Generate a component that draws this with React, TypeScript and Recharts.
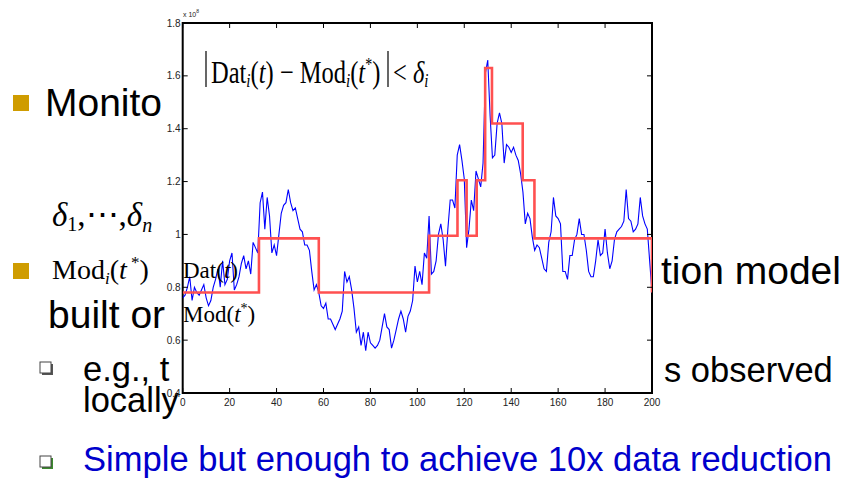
import React from "react";
import { Line, LineChart, ReferenceArea, XAxis, YAxis } from "recharts";

// measured series, in units of 1e8
const dataValues = [
  0.76, 0.77, 0.8, 0.84, 0.75, 0.8, 0.78, 0.77, 0.79, 0.81,
  0.76, 0.73, 0.75, 0.8, 0.83, 0.87, 0.8, 0.9, 0.81, 0.83,
  0.9, 0.93, 0.79, 0.81, 0.84, 0.89, 0.92, 0.87, 0.9, 0.85,
  0.97, 0.95, 0.93, 1.12, 1.16, 1.02, 1.14, 1.07, 0.93, 0.96,
  0.92, 1.0, 1.08, 1.11, 1.12, 1.17, 1.12, 1.09, 1.1, 1.06,
  1.02, 1.01, 0.96, 0.96, 0.94, 0.86, 0.79, 0.81, 0.78, 0.73,
  0.72, 0.74, 0.68, 0.68, 0.66, 0.64, 0.66, 0.68, 0.71, 0.86,
  0.82, 0.84, 0.79, 0.72, 0.63, 0.65, 0.58, 0.63, 0.56, 0.63,
  0.59, 0.58, 0.57, 0.58, 0.6, 0.65, 0.7, 0.65, 0.64, 0.57,
  0.6, 0.64, 0.68, 0.71, 0.68, 0.63, 0.69, 0.71, 0.75, 0.88,
  0.82, 0.86, 0.81, 0.93, 0.91, 1.07, 0.85, 0.86, 0.9, 1.0,
  1.04, 0.98, 0.88, 1.02, 1.13, 1.13, 1.1, 1.3, 1.34, 1.28,
  1.21, 0.95, 1.02, 1.13, 1.09, 1.24, 1.21, 1.18, 1.27, 1.61,
  1.66, 1.45, 1.29, 1.3, 1.42, 1.46, 1.42, 1.27, 1.34, 1.33,
  1.31, 1.33, 1.3, 1.28, 1.23, 1.16, 1.04, 1.08, 1.06, 0.99,
  0.94, 0.96, 0.95, 0.91, 0.87, 0.86, 0.97, 1.01, 1.14, 1.07,
  1.06, 1.04, 0.86, 0.86, 0.83, 0.92, 0.92, 0.98, 1.0, 1.06,
  1.0, 1.0, 0.94, 0.86, 0.84, 0.84, 0.9, 0.98, 0.92, 0.93,
  1.02, 0.93, 0.87, 0.9, 0.98, 1.01, 1.02, 1.03, 1.05, 1.17,
  1.06, 1.05, 1.01, 1.02, 1.04, 1.14, 1.07, 1.04, 1.02, 0.9,
  0.78,
];

// piecewise constant model: level holds from each break to the next
const modelBreaks = [0, 32.5, 58, 105, 117.1, 121, 125.3, 128.9, 131.8, 144.9, 149.9, 200];
const modelLevels = [0.78, 0.985, 0.78, 0.995, 1.205, 0.995, 1.205, 1.63, 1.42, 1.205, 0.985, 0.78];

const xTicks = [0, 20, 40, 60, 80, 100, 120, 140, 160, 180, 200];
const yTicks = [0.4, 0.6, 0.8, 1.0, 1.2, 1.4, 1.6, 1.8];

const series = dataValues.map((v, t) => ({ t, v }));
const model = modelBreaks.map((t, i) => ({ t, m: modelLevels[i] }));

const PLOT_LEFT = 182.7;
const PLOT_TOP = 23;
const PLOT_RIGHT = 652;
const PLOT_BOTTOM = 393;
const PLOT_W = PLOT_RIGHT - PLOT_LEFT;
const PLOT_H = PLOT_BOTTOM - PLOT_TOP;

const SANS = "'Liberation Sans', Arial, sans-serif";
const SERIF = "'Liberation Serif', 'Times New Roman', serif";

function fmt(v: number) {
  return String(Math.round(v * 10) / 10);
}

function BottomTick(props: any) {
  const { x, y, payload } = props;
  return (
    <g>
      <line x1={x} y1={y} x2={x} y2={y - 5} stroke="#000" strokeWidth={1} />
      <line x1={x} y1={y - PLOT_H} x2={x} y2={y - PLOT_H + 5} stroke="#000" strokeWidth={1} />
      <text x={x} y={y + 13} textAnchor="middle" fontSize={10} fontFamily={SANS} fill="#222">
        {fmt(payload.value)}
      </text>
    </g>
  );
}

function LeftTick(props: any) {
  const { x, y, payload } = props;
  return (
    <g>
      <line x1={x} y1={y} x2={x + 5} y2={y} stroke="#000" strokeWidth={1} />
      <line x1={x + PLOT_W} y1={y} x2={x + PLOT_W - 5} y2={y} stroke="#000" strokeWidth={1} />
      <text x={x - 2} y={y + 3.5} textAnchor="end" fontSize={10} fontFamily={SANS} fill="#222">
        {fmt(payload.value)}
      </text>
    </g>
  );
}

function Bullet(props: { x: number; y: number; shadow: string }) {
  return (
    <g>
      <rect x={props.x + 2} y={props.y + 2} width={11} height={11} fill={props.shadow} />
      <rect x={props.x} y={props.y} width={11} height={11} fill="#fff" stroke="#444" strokeWidth={1} />
    </g>
  );
}

function SlideText() {
  return (
    <svg width={849} height={481} style={{ position: "absolute", left: 0, top: 0 }}>
      <rect x={13} y={95} width={16} height={16} fill="#CF9C00" />
      <text x={45} y={116} fontSize={39} fontFamily={SANS} fill="#000">Monito</text>

      <text x={52} y={226} fontSize={33} fontFamily={SERIF} fill="#000">
        <tspan fontStyle="italic">δ</tspan>
        <tspan fontSize={20} dy={5}>1</tspan>
        <tspan dy={-5}>,⋯,</tspan>
        <tspan fontStyle="italic">δ</tspan>
        <tspan fontSize={20} dy={6} fontStyle="italic">n</tspan>
      </text>

      <rect x={13} y={263} width={16} height={16} fill="#CF9C00" />
      <text x={52} y={279} fontSize={28} fontFamily={SERIF} fill="#000">
        <tspan>Mod</tspan>
        <tspan fontSize={17} dy={5} fontStyle="italic">i</tspan>
        <tspan dy={-5}>(</tspan>
        <tspan fontStyle="italic">t</tspan>
        <tspan fontSize={17} dy={-11}> *</tspan>
        <tspan dy={11}>)</tspan>
      </text>

      <text x={661} y={284} fontSize={39} fontFamily={SANS} fill="#000">tion model</text>
      <text x={48} y={328} fontSize={39} fontFamily={SANS} fill="#000">built or</text>

      <Bullet x={40} y={362} shadow="#555" />
      <text x={83} y={381} fontSize={34.5} fontFamily={SANS} fill="#000">e.g., t</text>
      <text x={664} y={382} fontSize={34.5} fontFamily={SANS} fill="#000">s observed</text>
      <text x={83} y={412} fontSize={34.5} fontFamily={SANS} fill="#000">locally</text>

      <Bullet x={40} y={456} shadow="#3C8A2E" />
      <text x={83} y={471} fontSize={34.5} fontFamily={SANS} fill="#0000CC" textLength={749} lengthAdjust="spacingAndGlyphs">
        Simple but enough to achieve 10x data reduction
      </text>
    </svg>
  );
}

function Formulas() {
  return (
    <svg width={849} height={481} style={{ position: "absolute", left: 0, top: 0, pointerEvents: "none" }}>
      <text x={183} y={17} fontSize={7} fontFamily={SANS} fill="#222">
        x 10<tspan fontSize={5} dy={-4}>8</tspan>
      </text>

      <line x1={206} y1={51} x2={206} y2={87} stroke="#000" strokeWidth={1.2} />
      <line x1={388} y1={51} x2={388} y2={87} stroke="#000" strokeWidth={1.2} />
      <g transform="translate(211,83) scale(1,1.3)">
        <text x={0} y={0} fontSize={24.5} fontFamily={SERIF} fill="#000">
          <tspan>Dat</tspan>
          <tspan fontSize={15} dy={3} fontStyle="italic">i</tspan>
          <tspan dy={-3}>(</tspan>
          <tspan fontStyle="italic">t</tspan>
          <tspan>) − Mod</tspan>
          <tspan fontSize={15} dy={3} fontStyle="italic">i</tspan>
          <tspan dy={-3}>(</tspan>
          <tspan fontStyle="italic">t</tspan>
          <tspan fontSize={14} dy={-9}>*</tspan>
          <tspan dy={9}>)</tspan>
        </text>
      </g>
      <g transform="translate(393,83) scale(1,1.3)">
        <text x={0} y={0} fontSize={24.5} fontFamily={SERIF} fill="#000">
          <tspan>&lt; </tspan>
          <tspan fontStyle="italic">δ</tspan>
          <tspan fontSize={15} dy={3} fontStyle="italic">i</tspan>
        </text>
      </g>

      <text x={183} y={278} fontSize={23} fontFamily={SERIF} fill="#000">
        <tspan>Dat(</tspan>
        <tspan fontStyle="italic">t</tspan>
        <tspan>)</tspan>
      </text>
      <text x={183} y={322} fontSize={23} fontFamily={SERIF} fill="#000">
        <tspan>Mod(</tspan>
        <tspan fontStyle="italic">t</tspan>
        <tspan fontSize={14} dy={-9}>*</tspan>
        <tspan dy={9}>)</tspan>
      </text>
    </svg>
  );
}

export default function App() {
  return (
    <div
      style={{
        position: "fixed",
        left: 0,
        top: 0,
        width: 849,
        height: 481,
        background: "#fff",
        overflow: "hidden",
      }}
    >
      <SlideText />
      <div style={{ position: "absolute", left: 0, top: 0 }}>
        <LineChart
          width={849}
          height={481}
          margin={{ top: PLOT_TOP, right: 849 - PLOT_RIGHT, bottom: 481 - PLOT_BOTTOM - 30, left: PLOT_LEFT - 30 }}
        >
          <XAxis
            dataKey="t"
            type="number"
            domain={[0, 200]}
            ticks={xTicks}
            height={30}
            axisLine={false}
            tickLine={false}
            tickSize={0}
            tickMargin={0}
            tick={<BottomTick />}
            allowDataOverflow
          />
          <YAxis
            type="number"
            domain={[0.4, 1.8]}
            ticks={yTicks}
            width={30}
            axisLine={false}
            tickLine={false}
            tickSize={0}
            tickMargin={0}
            tick={<LeftTick />}
            allowDataOverflow
          />
          <ReferenceArea x1={0} x2={200} y1={0.4} y2={1.8} fill="none" fillOpacity={0} stroke="#000" strokeWidth={2} />
          <Line
            data={series}
            dataKey="v"
            type="linear"
            stroke="#0000FF"
            strokeWidth={1.1}
            dot={false}
            activeDot={false}
            isAnimationActive={false}
          />
          <Line
            data={model}
            dataKey="m"
            type="stepAfter"
            stroke="#FF5050"
            strokeWidth={2.6}
            dot={false}
            activeDot={false}
            isAnimationActive={false}
          />
        </LineChart>
      </div>
      <Formulas />
    </div>
  );
}
